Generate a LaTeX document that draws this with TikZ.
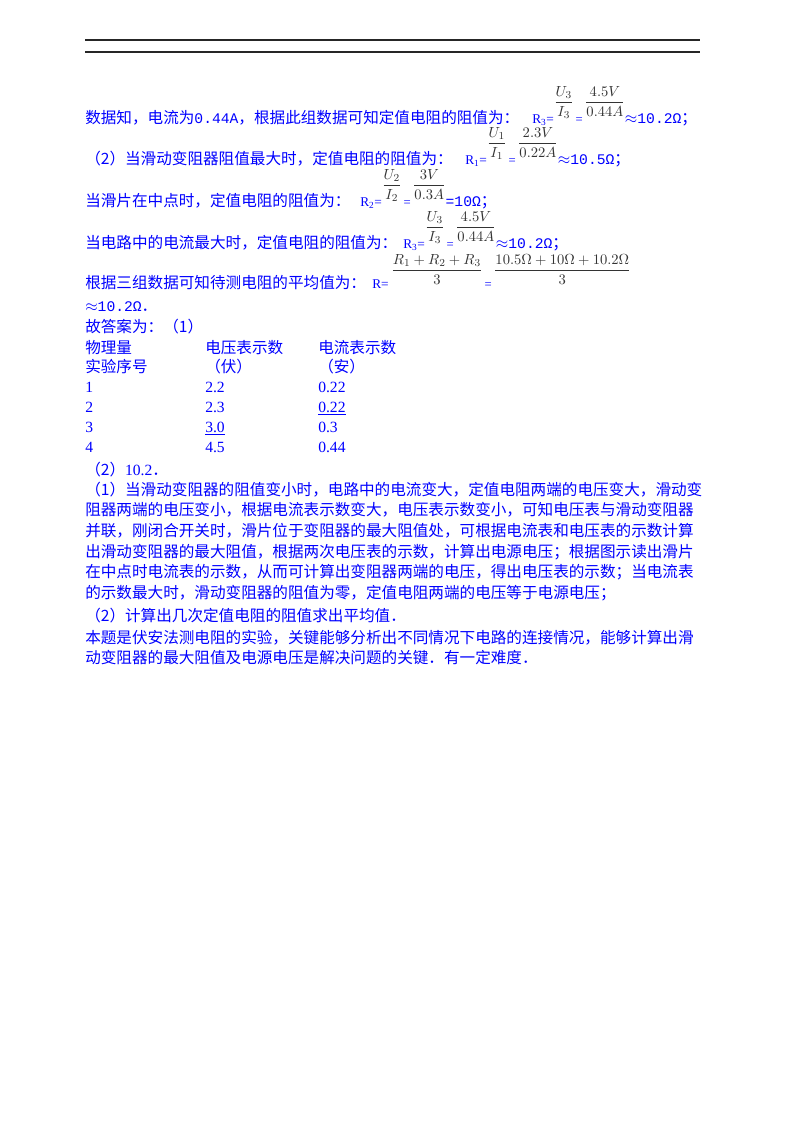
\documentclass[tikz,border=0pt]{standalone}
\usepackage{amsmath}
\usepackage[no-math]{fontspec}
\setmainfont{Noto Sans CJK SC}
\newfontfamily\tnr{Liberation Serif}
\newfontfamily\mono{Liberation Mono}
\usepackage{tikz}
\newcommand{\frc}[3][12.5pt]{{\color{black!80}\fontsize{11}{13}\selectfont\raisebox{#1}{$\dfrac{#2}{#3}$}}}
\newcommand{\seq}{{\tnr\fontsize{9.5}{11}\selectfont\,=\,}}
\newcommand{\rlab}[1]{{\tnr\fontsize{10}{12}\selectfont R\textsubscript{#1}=}}
\newcommand{\val}[1]{{\mono\fontsize{11}{13}\selectfont #1}}

\tikzset{
  txtline/.style={anchor=base west, inner sep=0pt, text=blue, font=\fontsize{11.7}{14}\selectfont},
  num/.style={txtline, font=\tnr\fontsize{11.7}{14}\selectfont},
  rule/.style={line width=0.9pt, black!85}
}

\begin{document}
\begin{tikzpicture}[x=0.75pt, y=-0.75pt]
\useasboundingbox (0,0) rectangle (800,1132);
\fill[white] (0,0) rectangle (800,1132);
% header rules
\draw[rule] (85,40) -- (700,40);
\draw[rule] (85,52) -- (700,52);

% resistance values
\node[txtline] (l1) at (85,123) {数据知，电流为\val{0.44A}，根据此组数据可知定值电阻的阻值为：};
\node[txtline] (f1) at (532,123) {\rlab{3}\frc{U_3}{I_3}\seq\frc{4.5V}{0.44A}$\approx$\val{10.2Ω}；};
\node[txtline] (l2) at (85,164) {（2）当滑动变阻器阻值最大时，定值电阻的阻值为：};
\node[txtline] (f2) at (465,164) {\rlab{1}\frc{U_1}{I_1}\seq\frc{2.3V}{0.22A}$\approx$\val{10.5Ω}；};
\node[txtline] (l3) at (85,206) {当滑片在中点时，定值电阻的阻值为：};
\node[txtline] (f3) at (360,206) {\rlab{2}\frc{U_2}{I_2}\seq\frc{3V}{0.3A}\val{=10Ω}；};
\node[txtline] (l4) at (85,248) {当电路中的电流最大时，定值电阻的阻值为：};
\node[txtline] (f4) at (403,248) {\rlab{3}\frc{U_3}{I_3}\seq\frc{4.5V}{0.44A}$\approx$\val{10.2Ω}；};
\node[txtline] (l5) at (85,288) {根据三组数据可知待测电阻的平均值为：};
\node[txtline] (f5) at (372,288) {{\tnr\fontsize{10}{12}\selectfont R=}\hspace{2pt}\frc[10.5pt]{R_1+R_2+R_3}{3}\seq\frc[10.5pt]{10.5\Omega+10\Omega+10.2\Omega}{3}};
\node[txtline] (l6) at (85,311) {$\approx$\val{10.2Ω}．};
\node[txtline] (l7) at (85,332) {故答案为：（1）};

% table
\node[txtline] (h1) at (85,353) {物理量};
\node[txtline] (h2) at (205,353) {电压表示数};
\node[txtline] (h3) at (318,353) {电流表示数};
\node[txtline] (s1) at (85,372) {实验序号};
\node[txtline] (s2) at (205,372) {（伏）};
\node[txtline] (s3) at (318,372) {（安）};
\node[num] (r1a) at (85,392) {1};
\node[num] (r1b) at (205,392) {2.2};
\node[num] (r1c) at (318,392) {0.22};
\node[num] (r2a) at (85,412) {2};
\node[num] (r2b) at (205,412) {2.3};
\node[num] (r2c) at (318,412) {\underline{0.22}};
\node[num] (r3a) at (85,432) {3};
\node[num] (r3b) at (205,432) {\underline{3.0}};
\node[num] (r3c) at (318,432) {0.3};
\node[num] (r4a) at (85,452) {4};
\node[num] (r4b) at (205,452) {4.5};
\node[num] (r4c) at (318,452) {0.44};
\node[txtline] (ans2) at (85,475) {（2）{\tnr 10.2}．};

% analysis
\node[txtline] (p1) at (85,495) {（1）当滑动变阻器的阻值变小时，电路中的电流变大，定值电阻两端的电压变大，滑动变};
\node[txtline] (p2) at (85,515.5) {阻器两端的电压变小，根据电流表示数变大，电压表示数变小，可知电压表与滑动变阻器};
\node[txtline] (p3) at (85,536) {并联，刚闭合开关时，滑片位于变阻器的最大阻值处，可根据电流表和电压表的示数计算};
\node[txtline] (p4) at (85,557) {出滑动变阻器的最大阻值，根据两次电压表的示数，计算出电源电压；根据图示读出滑片};
\node[txtline] (p5) at (85,577.5) {在中点时电流表的示数，从而可计算出变阻器两端的电压，得出电压表的示数；当电流表};
\node[txtline] (p6) at (85,598) {的示数最大时，滑动变阻器的阻值为零，定值电阻两端的电压等于电源电压；};
\node[txtline] (p7) at (85,621) {（2）计算出几次定值电阻的阻值求出平均值．};
\node[txtline] (p8) at (85,643) {本题是伏安法测电阻的实验，关键能够分析出不同情况下电路的连接情况，能够计算出滑};
\node[txtline] (p9) at (85,663) {动变阻器的最大阻值及电源电压是解决问题的关键．有一定难度．};
\end{tikzpicture}
\end{document}
